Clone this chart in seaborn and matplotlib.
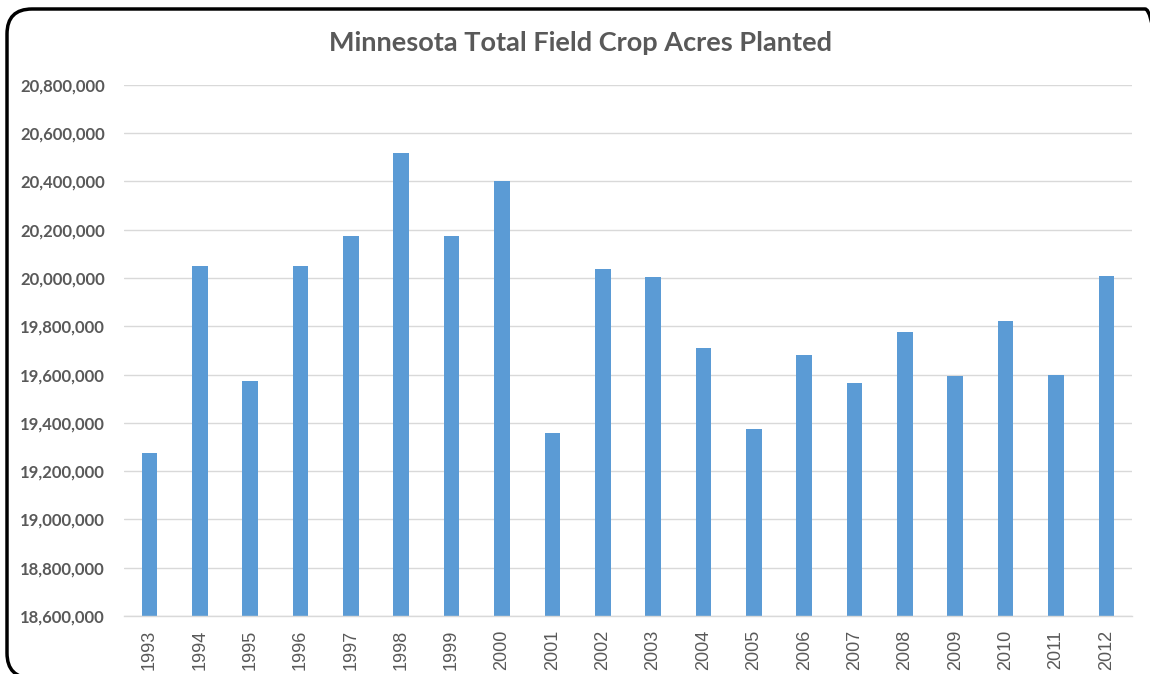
import matplotlib
matplotlib.use("Agg")
import matplotlib.pyplot as plt
import seaborn as sns
import pandas as pd
from matplotlib.patches import FancyBboxPatch
from matplotlib.ticker import FuncFormatter, FixedLocator

years = ["1993", "1994", "1995", "1996", "1997", "1998", "1999", "2000", "2001", "2002",
         "2003", "2004", "2005", "2006", "2007", "2008", "2009", "2010", "2011", "2012"]
acres = [19275000, 20050000, 19575000, 20050000, 20175000, 20520000, 20175000, 20400000,
         19358000, 20037000, 20004000, 19710000, 19375000, 19681000, 19565000, 19776000,
         19594000, 19822000, 19598000, 20008000]
y_ticks = [18600000, 18800000, 19000000, 19200000, 19400000, 19600000, 19800000,
           20000000, 20200000, 20400000, 20600000, 20800000]

sns.set_theme(style="white")
plt.rcParams['font.family'] = ['Lato', 'DejaVu Sans']

df = pd.DataFrame({"year": years, "acres": acres})

fig = plt.figure(figsize=(11.5, 6.74), dpi=100)
ax = fig.add_axes([0.108, 0.086, 0.876, 0.788])

sns.barplot(data=df, x="year", y="acres", color="#5B9BD5", saturation=1, width=0.31, ax=ax,
            edgecolor="none")

ax.set_ylim(18600000, 20800000)
ax.set_yticks(y_ticks)
ax.yaxis.set_major_formatter(FuncFormatter(lambda v, p: f"{int(v):,}"))
ax.set_xlim(-0.5, len(years) - 0.5)
ax.grid(axis="y", color="#D9D9D9", linewidth=1)
ax.set_axisbelow(True)
for s in ["top", "right", "left"]:
    ax.spines[s].set_visible(False)
ax.spines["bottom"].set_color("#D9D9D9")
ax.spines["bottom"].set_linewidth(1)
ax.set_xlabel("")
ax.set_ylabel("")

ax.tick_params(axis="y", length=0, pad=14, labelsize=12, labelcolor="#595959")
for t in ax.get_yticklabels():
    t.set_fontweight("bold")
ax.tick_params(axis="x", which="major", length=0, pad=10, labelsize=13,
               labelcolor="#595959", rotation=90)
ax.xaxis.set_minor_locator(FixedLocator([i - 0.5 for i in range(len(years) + 1)]))
ax.tick_params(axis="x", which="minor", direction="inout", length=12, width=1,
               color="#D9D9D9")
for t in ax.get_xticklabels():
    t.set_family(["Liberation Sans", "DejaVu Sans"])

fig.text(0.505, 0.936, "Minnesota Total Field Crop Acres Planted", ha="center", va="center",
         fontsize=19.5, fontweight="bold", color="#595959")

frame = FancyBboxPatch((0.07, -0.04), 11.63, 6.69,
                       boxstyle="round,pad=0,rounding_size=0.25",
                       transform=fig.dpi_scale_trans, facecolor="none", edgecolor="black",
                       linewidth=2.5)
fig.patches.append(frame)

fig.savefig("out.png", dpi=100)
